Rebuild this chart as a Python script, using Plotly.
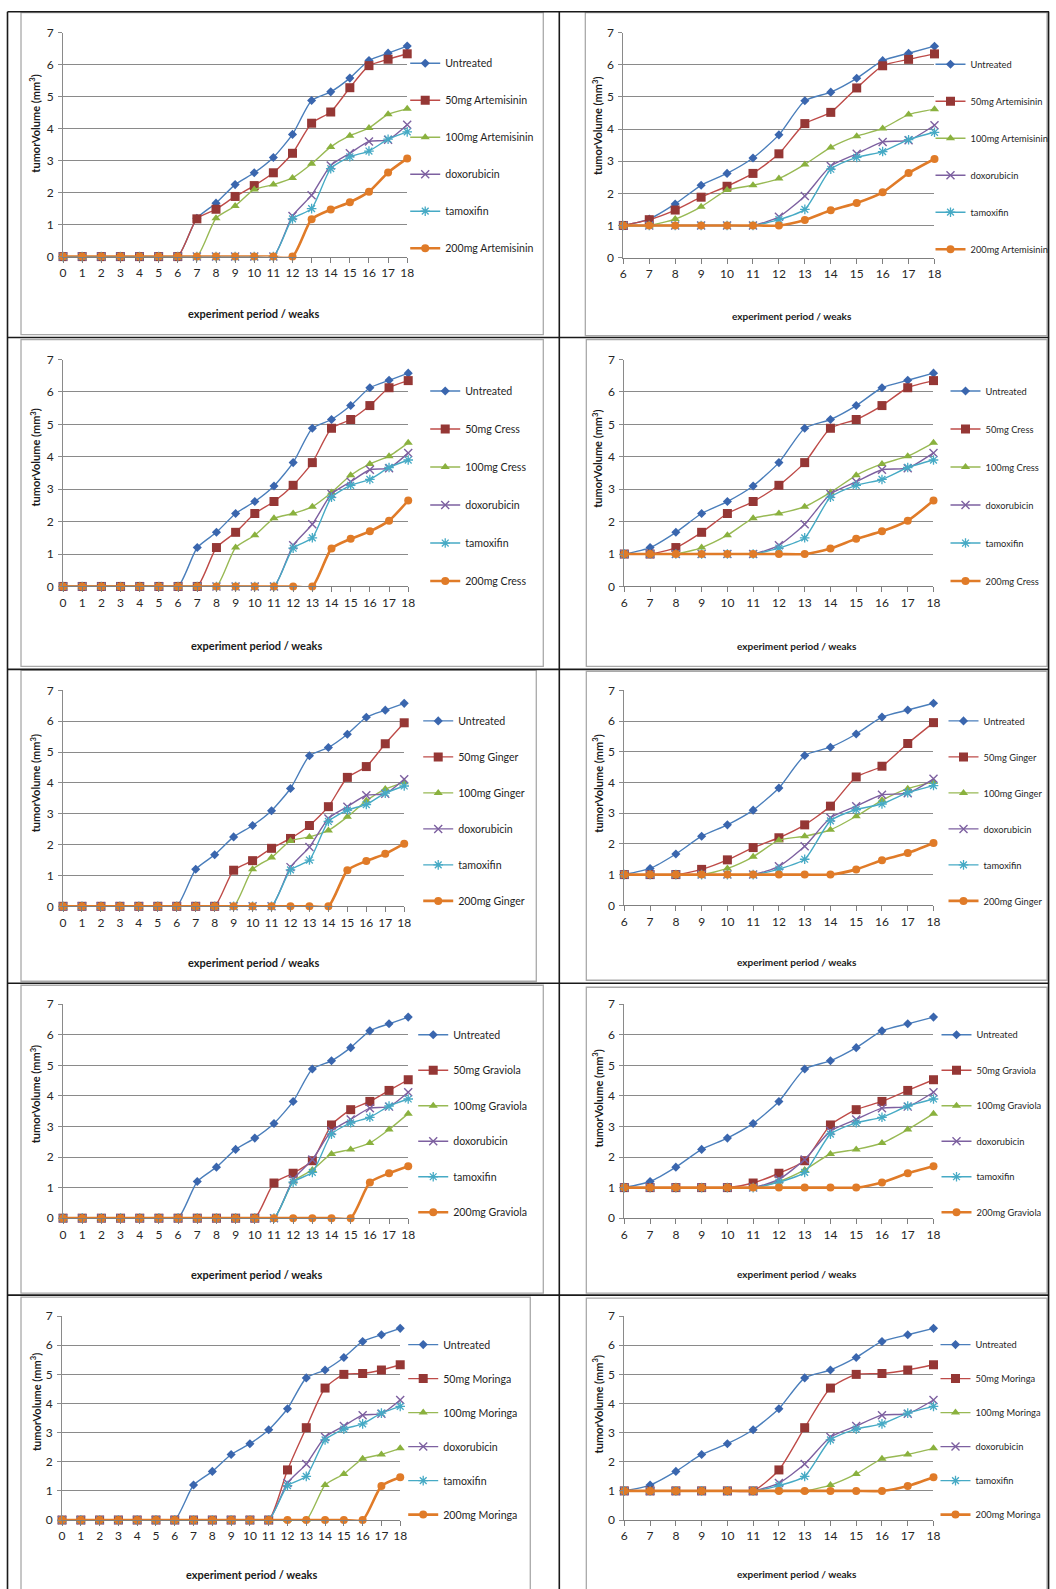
import plotly.graph_objects as go

W, H = 1056, 1589
# calibration of the photographed page (measured from earlier renders): photo = A + S * page
AX, SX = 3.0, 0.990
AY, SY = 7.3, 0.991

# ---------------- data ----------------
weeks_L = [0, 1, 2, 3, 4, 5, 6, 7, 8, 9, 10, 11, 12, 13, 14, 15, 16, 17, 18]
weeks_R = [6, 7, 8, 9, 10, 11, 12, 13, 14, 15, 16, 17, 18]
y_ticks = [0, 1, 2, 3, 4, 5, 6, 7]

untreated_L = [0, 0, 0, 0, 0, 0, 0, 1.2, 1.67, 2.25, 2.62, 3.1, 3.82, 4.88, 5.15, 5.58, 6.13, 6.36, 6.58]
untreated_R = [1, 1.2, 1.67, 2.25, 2.62, 3.1, 3.82, 4.88, 5.15, 5.58, 6.13, 6.36, 6.58]
doxo_L = [0, 0, 0, 0, 0, 0, 0, 0, 0, 0, 0, 0, 1.27, 1.92, 2.85, 3.23, 3.6, 3.65, 4.12]
doxo_R = [1, 1, 1, 1, 1, 1, 1.27, 1.92, 2.85, 3.23, 3.6, 3.65, 4.12]
tamox_L = [0, 0, 0, 0, 0, 0, 0, 0, 0, 0, 0, 0, 1.18, 1.5, 2.75, 3.12, 3.3, 3.67, 3.9]
tamox_R = [1, 1, 1, 1, 1, 1, 1.18, 1.5, 2.75, 3.12, 3.3, 3.67, 3.9]

art50_L = [0, 0, 0, 0, 0, 0, 0, 1.18, 1.48, 1.88, 2.22, 2.62, 3.23, 4.17, 4.52, 5.28, 5.97, 6.17, 6.34]
art50_R = [1, 1.18, 1.48, 1.88, 2.22, 2.62, 3.23, 4.17, 4.52, 5.28, 5.97, 6.17, 6.34]
art100_L = [0, 0, 0, 0, 0, 0, 0, 0, 1.2, 1.58, 2.1, 2.25, 2.46, 2.9, 3.43, 3.78, 4.02, 4.45, 4.62]
art100_R = [1, 1, 1.2, 1.58, 2.1, 2.25, 2.46, 2.9, 3.43, 3.78, 4.02, 4.45, 4.62]
art200_L = [0, 0, 0, 0, 0, 0, 0, 0, 0, 0, 0, 0, 0, 1.17, 1.47, 1.7, 2.03, 2.63, 3.07]
art200_R = [1, 1, 1, 1, 1, 1, 1, 1.17, 1.47, 1.7, 2.03, 2.63, 3.07]

cress50_L = [0, 0, 0, 0, 0, 0, 0, 0, 1.2, 1.67, 2.25, 2.62, 3.12, 3.82, 4.88, 5.15, 5.58, 6.13, 6.35]
cress50_R = [1, 1, 1.2, 1.67, 2.25, 2.62, 3.12, 3.82, 4.88, 5.15, 5.58, 6.13, 6.35]
cress100_L = [0, 0, 0, 0, 0, 0, 0, 0, 0, 1.2, 1.58, 2.1, 2.25, 2.46, 2.9, 3.43, 3.78, 4.02, 4.43]
cress100_R = [1, 1, 1, 1.2, 1.58, 2.1, 2.25, 2.46, 2.9, 3.43, 3.78, 4.02, 4.43]
cress200_L = [0, 0, 0, 0, 0, 0, 0, 0, 0, 0, 0, 0, 0, 0, 1.17, 1.47, 1.7, 2.03, 2.65]
cress200_R = [1, 1, 1, 1, 1, 1, 1, 1, 1.17, 1.47, 1.7, 2.03, 2.65]

ginger50_L = [0, 0, 0, 0, 0, 0, 0, 0, 0, 1.17, 1.48, 1.88, 2.2, 2.62, 3.23, 4.18, 4.53, 5.27, 5.95]
ginger50_R = [1, 1, 1, 1.17, 1.48, 1.88, 2.2, 2.62, 3.23, 4.18, 4.53, 5.27, 5.95]
ginger100_L = [0, 0, 0, 0, 0, 0, 0, 0, 0, 0, 1.2, 1.58, 2.12, 2.25, 2.46, 2.9, 3.42, 3.8, 4.02]
ginger100_R = [1, 1, 1, 1, 1.2, 1.58, 2.12, 2.25, 2.46, 2.9, 3.42, 3.8, 4.02]
ginger200_L = [0, 0, 0, 0, 0, 0, 0, 0, 0, 0, 0, 0, 0, 0, 0, 1.17, 1.47, 1.7, 2.03]
ginger200_R = [1, 1, 1, 1, 1, 1, 1, 1, 1, 1.17, 1.47, 1.7, 2.03]

grav50_L = [0, 0, 0, 0, 0, 0, 0, 0, 0, 0, 0, 1.15, 1.47, 1.88, 3.05, 3.55, 3.82, 4.18, 4.53]
grav50_R = [1, 1, 1, 1, 1, 1.15, 1.47, 1.88, 3.05, 3.55, 3.82, 4.18, 4.53]
grav100_L = [0, 0, 0, 0, 0, 0, 0, 0, 0, 0, 0, 0, 1.2, 1.58, 2.1, 2.25, 2.46, 2.9, 3.42]
grav100_R = [1, 1, 1, 1, 1, 1, 1.2, 1.58, 2.1, 2.25, 2.46, 2.9, 3.42]
grav200_L = [0, 0, 0, 0, 0, 0, 0, 0, 0, 0, 0, 0, 0, 0, 0, 0, 1.17, 1.47, 1.7]
grav200_R = [1, 1, 1, 1, 1, 1, 1, 1, 1, 1, 1.17, 1.47, 1.7]

mor50_L = [0, 0, 0, 0, 0, 0, 0, 0, 0, 0, 0, 0, 1.72, 3.17, 4.53, 5.0, 5.03, 5.15, 5.33]
mor50_R = [1, 1, 1, 1, 1, 1, 1.72, 3.17, 4.53, 5.0, 5.03, 5.15, 5.33]
mor100_L = [0, 0, 0, 0, 0, 0, 0, 0, 0, 0, 0, 0, 0, 0, 1.2, 1.58, 2.1, 2.25, 2.46]
mor100_R = [1, 1, 1, 1, 1, 1, 1, 1, 1.2, 1.58, 2.1, 2.25, 2.46]
mor200_L = [0, 0, 0, 0, 0, 0, 0, 0, 0, 0, 0, 0, 0, 0, 0, 0, 0, 1.17, 1.47]
mor200_R = [1, 1, 1, 1, 1, 1, 1, 1, 1, 1, 1, 1.17, 1.47]

herbs = ["Artemisinin", "Cress", "Ginger", "Graviola", "Moringa"]
herb_L = [(art50_L, art100_L, art200_L), (cress50_L, cress100_L, cress200_L),
          (ginger50_L, ginger100_L, ginger200_L), (grav50_L, grav100_L, grav200_L),
          (mor50_L, mor100_L, mor200_L)]
herb_R = [(art50_R, art100_R, art200_R), (cress50_R, cress100_R, cress200_R),
          (ginger50_R, ginger100_R, ginger200_R), (grav50_R, grav100_R, grav200_R),
          (mor50_R, mor100_R, mor200_R)]

# ---------------- layout geometry (reference pixels) ----------------
plot_L = [(63, 407, 32, 256), (63, 408, 359, 586), (63, 404, 690, 906), (63, 408, 1004, 1218), (62, 400, 1316, 1520)]
plot_R = [(623, 934, 32, 257), (624, 933, 359, 586), (624, 933, 690, 905), (624, 933, 1004, 1218), (624, 933, 1316, 1520)]
leg_x_L = [405, 425, 418, 413, 403]
leg_x_R = [930, 945, 943, 936, 935]
leg_y_L = [63, 391, 721, 1035, 1345]
leg_y_R = [64, 391, 721, 1035, 1345]
leg_gap = [18, 19, 17, 16.5, 15]
xt_L = [(253, 313), (256, 645), (253, 962), (256, 1274), (251, 1574)]
xt_R = [(792, 315), (797, 646), (797, 962), (797, 1274), (797, 1574)]
yt_L = [(35, 123), (35, 457), (35, 783), (35, 1094), (35, 1402)]
yt_R = [(597, 125), (597, 458), (597, 783), (597, 1098), (597, 1404)]
box_L = [(21, 12, 543, 334), (21, 339, 543, 666), (21, 670, 536, 981), (21, 985, 543, 1293), (21, 1297, 530, 1610)]
box_R = [(585, 12, 1046.5, 335), (586, 339, 1046.5, 666), (586, 671, 1046.5, 980), (586, 987, 1046.5, 1293), (586, 1298, 1046.5, 1610)]
hlines = [11, 337, 669, 983, 1295]
vlines = [7.5, 559, 1048]

def px(x):
    return ((x - AX) / SX) / W

def py(y):
    return 1 - ((y - AY) / SY) / H

FONT = "Lato"
styles = [
    dict(lc="#4A7EBB", lw=1.4, sym="diamond", ms=7, mc="#3A66AE", mlw=0),
    dict(lc="#BE4B48", lw=1.4, sym="square", ms=9, mc="#953735", mlw=0),
    dict(lc="#98B954", lw=1.4, sym="triangle-up", ms=8, mc="#8AB13E", mlw=0),
    dict(lc="#7D60A0", lw=1.4, sym="x-thin-open", ms=8, mc="#7D60A0", mlw=1.4),
    dict(lc="#46AAC5", lw=1.4, sym="asterisk-open", ms=8, mc="#46AAC5", mlw=1.3),
    dict(lc="#E07B28", lw=2.6, sym="circle", ms=8, mc="#E07B28", mlw=0),
]

fig = go.Figure()
layout = dict(width=W, height=H, margin=dict(l=0, r=0, t=0, b=0),
              paper_bgcolor="white", plot_bgcolor="white", showlegend=True)
annotations = []
shapes = []

panel_idx = 0
for r in range(5):
    herb = herbs[r]
    names = ["Untreated", "50mg " + herb, "100mg " + herb, "doxorubicin", "tamoxifin", "200mg " + herb]
    for side in ("L", "R"):
        panel_idx += 1
        if side == "L":
            xs = weeks_L
            s50, s100, s200 = herb_L[r]
            series = [untreated_L, s50, s100, doxo_L, tamox_L, s200]
            x0, x1, y0, y1 = plot_L[r]
            lx, ly = leg_x_L[r], leg_y_L[r]
            xt, yt = xt_L[r], yt_L[r]
            xr = [0, 18]
            legsize, ticksize, xtsize = 10.6, 12, 11
        else:
            xs = weeks_R
            s50, s100, s200 = herb_R[r]
            series = [untreated_R, s50, s100, doxo_R, tamox_R, s200]
            x0, x1, y0, y1 = plot_R[r]
            lx, ly = leg_x_R[r], leg_y_R[r]
            xt, yt = xt_R[r], yt_R[r]
            xr = [6, 18]
            legsize, ticksize, xtsize = 9.3, 12, 10
        sfx = "" if panel_idx == 1 else str(panel_idx)
        legname = "legend" + sfx
        for k in range(6):
            st = styles[k]
            fig.add_trace(go.Scatter(
                x=xs, y=series[k], name=names[k], mode="lines+markers",
                line=dict(color=st["lc"], width=st["lw"], shape="spline", smoothing=0.6),
                marker=dict(symbol=st["sym"], size=st["ms"], color=st["mc"],
                            line=dict(color=st["mc"], width=st["mlw"])),
                xaxis="x" + sfx, yaxis="y" + sfx, legend=legname,
                legendgroup="g%d_%d" % (panel_idx, k), cliponaxis=False,
                hoverinfo="x+y+name"))
        layout["xaxis" + sfx] = dict(
            domain=[px(x0), px(x1)], range=xr, anchor="y" + sfx,
            tickmode="array", tickvals=xs, ticktext=[str(v) for v in xs],
            showgrid=False, zeroline=False, showline=True, linecolor="#7f7f7f", linewidth=1,
            ticks="outside", ticklen=5, tickcolor="#7f7f7f",
            tickfont=dict(family=FONT, size=ticksize, color="#262626"), fixedrange=True)
        layout["yaxis" + sfx] = dict(
            domain=[py(y1), py(y0)], range=[0, 7], anchor="x" + sfx,
            tickmode="array", tickvals=y_ticks, ticktext=[str(v) for v in y_ticks],
            showgrid=True, gridcolor="#8a8a8a", gridwidth=1, zeroline=False,
            showline=True, linecolor="#8a8a8a", linewidth=1,
            ticks="outside", ticklen=4, tickcolor="#8a8a8a", ticklabelstandoff=2,
            tickfont=dict(family=FONT, size=ticksize, color="#262626"), fixedrange=True)
        layout[legname] = dict(
            x=px(lx), y=py(ly - 15), xanchor="left", yanchor="top",
            bgcolor="rgba(0,0,0,0)", borderwidth=0, itemwidth=30,
            tracegroupgap=leg_gap[r], traceorder="grouped",
            font=dict(family=FONT, size=legsize, color="#1f1f1f"))
        annotations.append(dict(
            x=px(xt[0]), y=py(xt[1]), xref="paper", yref="paper",
            text="experiment period / weaks", showarrow=False,
            xanchor="center", yanchor="middle",
            font=dict(family=FONT, size=xtsize, color="#1a1a1a", weight=700)))
        annotations.append(dict(
            x=px(yt[0]), y=py(yt[1]), xref="paper", yref="paper",
            text="tumorVolume (mm<sup>3</sup>)", showarrow=False, textangle=-90,
            xanchor="center", yanchor="middle",
            font=dict(family=FONT, size=11, color="#1a1a1a", weight="bold")))

for bx in box_L + box_R:
    shapes.append(dict(type="rect", xref="paper", yref="paper",
                       x0=px(bx[0]), x1=px(bx[2]), y0=py(bx[3]), y1=py(bx[1]),
                       line=dict(color="#a9a9a9", width=1.3), fillcolor="rgba(0,0,0,0)", layer="below"))
for yy in hlines:
    shapes.append(dict(type="line", xref="paper", yref="paper",
                       x0=px(7.5), x1=px(1048.5), y0=py(yy), y1=py(yy),
                       line=dict(color="#1a1a1a", width=1.6)))
for xx in vlines:
    shapes.append(dict(type="line", xref="paper", yref="paper",
                       x0=px(xx), x1=px(xx), y0=py(11), y1=py(1600),
                       line=dict(color="#1a1a1a", width=1.6)))

layout["annotations"] = annotations
layout["shapes"] = shapes
fig.update_layout(**layout)

post = ("document.documentElement.style.margin='0';document.body.style.margin='0';"
        "document.body.style.padding='0';document.body.style.overflow='hidden';"
        "var d=document.getElementById('{plot_id}');d.style.position='absolute';"
        "d.style.left='0px';d.style.top='0px';")
fig.write_html("out.html", config={"displayModeBar": False}, post_script=post)
